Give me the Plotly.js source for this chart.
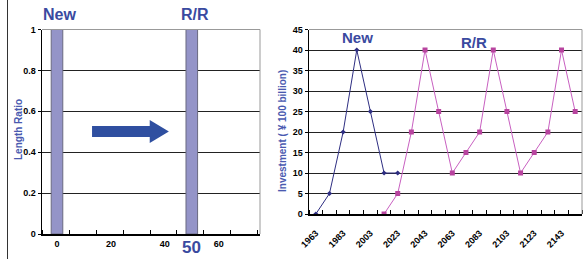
<!DOCTYPE html>
<html>
<head>
<meta charset="utf-8">
<script src="https://cdn.plot.ly/plotly-3.0.1.min.js"></script>
<style>html,body{margin:0;padding:0;background:#fff;}#chart{width:583px;height:259px;}</style>
</head>
<body>
<div id="chart"></div>
<script>
// Left chart: length ratio bars
const barPositions = [0, 50];
const lengthRatio = [1, 1];
const leftXTicks = [0, 20, 40, 60];
const leftXTickText = ['0', '20', '40', '60'];
const leftYTicks = [0, 0.2, 0.4, 0.6, 0.8, 1];
const leftYTickText = ['0', '0.2', '0.4', '0.6', '0.8', '1'];

// Right chart: investment (¥100 billion) per decade
const newYears = [1963, 1973, 1983, 1993, 2003, 2013, 2023];
const newInvestment = [0, 5, 20, 40, 25, 10, 10];
const rrYears = [2013, 2023, 2033, 2043, 2053, 2063, 2073, 2083, 2093, 2103, 2113, 2123, 2133, 2143, 2153];
const rrInvestment = [0, 5, 20, 40, 25, 10, 15, 20, 40, 25, 10, 15, 20, 40, 25];
const rightXTicks = [1963, 1983, 2003, 2023, 2043, 2063, 2083, 2103, 2123, 2143];
const rightYTicks = [0, 5, 10, 15, 20, 25, 30, 35, 40, 45];

const BLUE = '#3a4aa0';
const FAM = 'Liberation Sans, Arial, sans-serif';
const tickFont = {family: FAM, size: 9, color: '#000'};
const b = s => '<b>' + s + '</b>';

const traces = [
  {
    type: 'bar', x: barPositions, y: lengthRatio, width: 4.3,
    xaxis: 'x', yaxis: 'y',
    marker: {color: '#9494c8', line: {color: '#6a6a80', width: 1}},
    hoverinfo: 'skip'
  },
  {
    type: 'scatter', mode: 'lines+markers', x: newYears, y: newInvestment,
    xaxis: 'x2', yaxis: 'y2',
    line: {color: '#2e2e82', width: 1},
    marker: {symbol: 'diamond', size: 4, color: '#2e2e82'}
  },
  {
    type: 'scatter', mode: 'lines+markers', x: rrYears, y: rrInvestment,
    xaxis: 'x2', yaxis: 'y2',
    line: {color: '#c860c0', width: 1},
    marker: {symbol: 'square', size: 5, color: '#b8449f'}
  }
];

const ann = (text, x, y, size, extra) => Object.assign({
  text: b(text), xref: 'paper', yref: 'paper', x: x, y: y, showarrow: false,
  xanchor: 'center', yanchor: 'middle',
  font: {family: FAM, size: size, color: BLUE}
}, extra || {});

const layout = {
  width: 583, height: 259,
  margin: {l: 0, r: 0, t: 0, b: 0},
  paper_bgcolor: '#fff', plot_bgcolor: '#fff',
  showlegend: false,
  xaxis: {
    domain: [42/583, 260/583], anchor: 'y',
    range: [-5.56, 75.3],
    tickvals: leftXTicks, ticktext: leftXTickText.map(b), ticks: '', showgrid: false, zeroline: false,
    showline: true, linecolor: '#000', linewidth: 1.5,
    tickfont: tickFont, ticklabelstandoff: 1,
    minor: {ticks: 'inside', tick0: 4.5, dtick: 10, ticklen: 4, tickcolor: '#000', showgrid: false}
  },
  yaxis: {
    domain: [(259-234)/259, (259-29.5)/259], anchor: 'x',
    range: [0, 1],
    tickvals: leftYTicks, ticktext: leftYTickText.map(b),
    ticks: 'outside', ticklen: 3, tickcolor: '#000',
    showgrid: true, gridcolor: '#222', gridwidth: 1, zeroline: false,
    showline: true, linecolor: '#000', linewidth: 1.5,
    tickfont: tickFont
  },
  xaxis2: {
    domain: [309/583, 582/583], anchor: 'y2',
    range: [1958, 2158],
    tickvals: rightXTicks, ticktext: rightXTicks.map(v => b(String(v))), ticks: '', tickangle: -45,
    showgrid: false, zeroline: false,
    showline: true, linecolor: '#000', linewidth: 1.5,
    tickfont: {family: FAM, size: 9, color: '#000'}, ticklabelstandoff: 9,
    minor: {ticks: 'inside', tick0: 1958, dtick: 10, ticklen: 4, tickcolor: '#000', showgrid: false}
  },
  yaxis2: {
    domain: [(259-214)/259, (259-29.5)/259], anchor: 'x2',
    range: [0, 45],
    tickvals: rightYTicks, ticktext: rightYTicks.map(v => b(String(v))),
    ticks: 'outside', ticklen: 3, tickcolor: '#000',
    showgrid: true, gridcolor: '#222', gridwidth: 1, zeroline: false,
    showline: true, linecolor: '#000', linewidth: 1.5,
    tickfont: tickFont
  },
  shapes: [
    {type: 'line', xref: 'paper', yref: 'paper', x0: 7.5/583, x1: 7.5/583, y0: 0, y1: 1, line: {color: '#333', width: 1}},
    {type: 'line', xref: 'x domain', yref: 'y domain', x0: 0, x1: 1, y0: 1, y1: 1, line: {color: '#999', width: 1}, layer: 'above'},
    {type: 'line', xref: 'x domain', yref: 'y domain', x0: 1, x1: 1, y0: 0, y1: 1, line: {color: '#999', width: 1}, layer: 'above'},
    {type: 'line', xref: 'x2 domain', yref: 'y2 domain', x0: 0, x1: 1, y0: 1, y1: 1, line: {color: '#999', width: 1}, layer: 'above'},
    {type: 'line', xref: 'x2 domain', yref: 'y2 domain', x0: 1, x1: 1, y0: 0, y1: 1, line: {color: '#999', width: 1}, layer: 'above'},
    {type: 'path', xref: 'x', yref: 'y',
     path: 'M 13,0.474 L 34.4,0.474 L 34.4,0.445 L 41.5,0.501 L 34.4,0.557 L 34.4,0.528 L 13,0.528 Z',
     fillcolor: '#2f4fa0', line: {width: 0}, layer: 'above'}
  ],
  annotations: [
    ann('New', 59.5/583, (259-15)/259, 16),
    ann('R/R', 194.5/583, (259-15)/259, 16),
    ann('50', 0, (259-247)/259, 17, {xref: 'x', x: 50, borderpad: 0}),
    ann('Length Ratio', 18/583, (259-130)/259, 10, {textangle: -90, font: {family: FAM, size: 10, color: '#4a5ab0'}}),
    ann('Investment ( ¥ 100 billion)', 282/583, (259-131)/259, 10, {textangle: -90, font: {family: FAM, size: 10, color: '#4a5ab0'}}),
    ann('New', 357.5/583, (259-37.5)/259, 15),
    ann('R/R', 474/583, (259-42)/259, 15)
  ]
};

Plotly.newPlot('chart', traces, layout, {displayModeBar: false, staticPlot: true});
</script>
</body>
</html>
